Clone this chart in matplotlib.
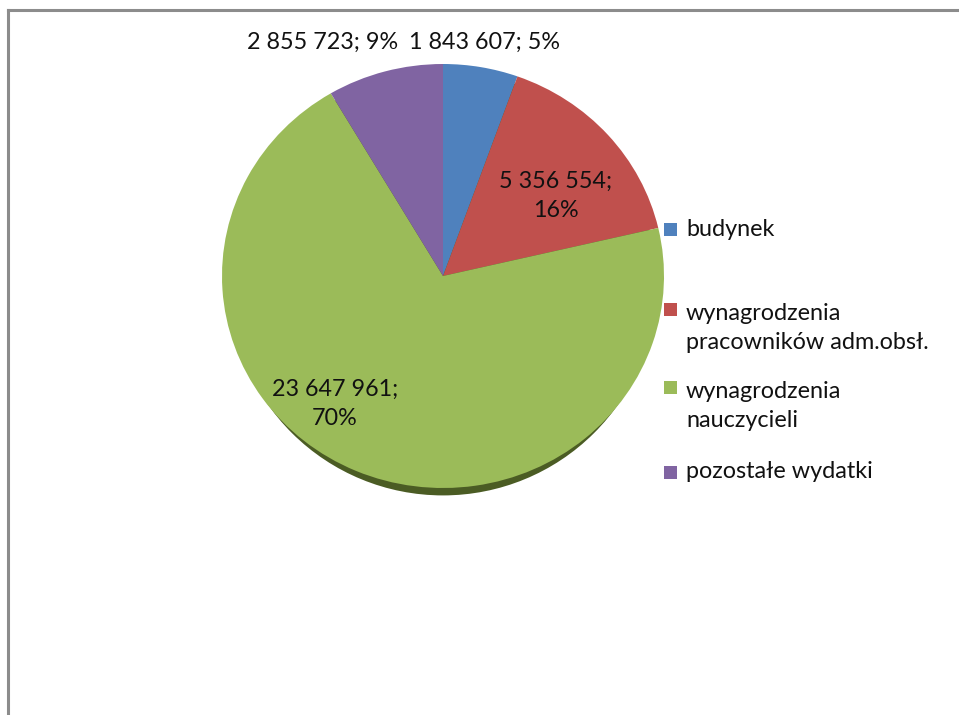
import matplotlib
matplotlib.use("Agg")
import matplotlib.pyplot as plt
from matplotlib.patches import Ellipse, Rectangle
from matplotlib.lines import Line2D

categories = ["budynek", "wynagrodzenia\npracowników adm.obsł.",
              "wynagrodzenia\nnauczycieli", "pozostałe wydatki"]
values = [1843607, 5356554, 23647961, 2855723]
percents = ["5%", "16%", "70%", "9%"]
colors = ["#4F81BD", "#C0504D", "#9BBB59", "#8064A2"]

plt.rcParams['font.family'] = ['Lato', 'DejaVu Sans']

W, H = 959, 715
fig = plt.figure(figsize=(W / 100, H / 100), dpi=100)
fig.patch.set_facecolor("white")

def fx(px):
    return px / W

def fy(py):
    return 1 - py / H

# chart border (left and top)
fig.add_artist(Line2D([fx(8), fx(8)], [fy(10), fy(715)], color="#8c8c8c", lw=2.2))
fig.add_artist(Line2D([fx(8), fx(959)], [fy(10), fy(10)], color="#8c8c8c", lw=2.2))

# pie axes (bounding box of the ellipse in pixels)
left, right, top, bottom = 222, 664, 64, 488
ax = fig.add_axes([fx(left), fy(bottom), (right - left) / W, (bottom - top) / H])
shadow = Ellipse((0, -0.035), 1.93, 2.0, facecolor="#4b5c24", edgecolor="none", zorder=0, clip_on=False)
ax.add_patch(shadow)
wedges, _ = ax.pie(values, colors=colors, startangle=90, counterclock=False,
                   wedgeprops=dict(linewidth=0, zorder=1))
ax.set_aspect('auto')
ax.set_xlim(-1, 1)
ax.set_ylim(-1, 1)
ax.axis('off')

def fmt(v):
    return f"{v:,}".replace(",", " ")

fs = 16.8
tc = "#111111"
# data labels
fig.text(fx(484), fy(42), f"{fmt(values[0])}; {percents[0]}", ha="center", va="center", fontsize=fs, color=tc)
fig.text(fx(323), fy(42), f"{fmt(values[3])}; {percents[3]}", ha="center", va="center", fontsize=fs, color=tc)
fig.text(fx(556), fy(196), f"{fmt(values[1])};\n{percents[1]}", ha="center", va="center", fontsize=fs,
         linespacing=1.45, color=tc)
fig.text(fx(335), fy(404), f"{fmt(values[2])};\n{percents[2]}", ha="center", va="center", fontsize=fs,
         linespacing=1.45, color=tc)

# legend
leg_y = [230, 328, 406, 472]
sq = 13
for lab, y, col in zip(categories, leg_y, colors):
    lines = lab.split("\n")
    first_y = y if len(lines) == 1 else y - 18
    fig.add_artist(Rectangle((fx(664), fy(first_y + sq / 2)), sq / W, sq / H, facecolor=col,
                             edgecolor="none", transform=fig.transFigure))
    fig.text(fx(686), fy(y), lab, ha="left", va="center", fontsize=fs, linespacing=1.5, color=tc)

fig.savefig("out.png", dpi=100)
